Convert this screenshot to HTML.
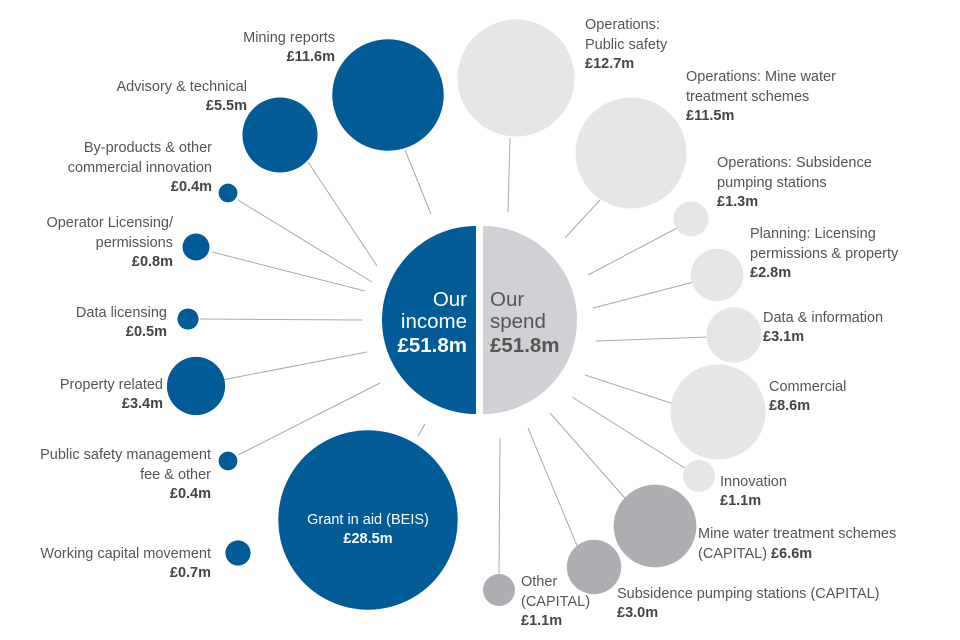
<!DOCTYPE html>
<html><head><meta charset="utf-8"><style>
html,body{margin:0;padding:0;background:#fff;}
svg{display:block;font-family:"Liberation Sans",sans-serif;}
.l{fill:#555;font-size:14.5px;}
.v{fill:#444;font-size:14.5px;font-weight:bold;}
</style></head><body>
<svg id="chart" width="960" height="640" viewBox="0 0 960 640">
<g id="lines"></g>
<g id="bubbles"></g>
<g id="center">
<path d="M476,226 A94,94 0 0 0 476,414 Z" fill="#005b96"/>
<path d="M483,226 A94,94 0 0 1 483,414 Z" fill="#d1d1d5"/>
<g font-size="20.5" text-anchor="end" fill="#fff">
<text x="467" y="306">Our</text><text x="467" y="328">income</text><text x="467" y="352" font-weight="bold">£51.8m</text></g>
<g font-size="20.5" fill="#555">
<text x="490" y="306">Our</text><text x="490" y="328">spend</text><text x="490" y="352" font-weight="bold">£51.8m</text></g>
</g>
<g id="labels"></g>
</svg>
<script>
const names=["Mining reports","Advisory & technical","By-products & other commercial innovation","Operator Licensing/ permissions","Data licensing","Property related","Public safety management fee & other","Grant in aid (BEIS)","Working capital movement","Operations: Public safety","Operations: Mine water treatment schemes","Operations: Subsidence pumping stations","Planning: Licensing permissions & property","Data & information","Commercial","Innovation","Mine water treatment schemes (CAPITAL)","Subsidence pumping stations (CAPITAL)","Other (CAPITAL)"];
const values=[11.6,5.5,0.4,0.8,0.5,3.4,0.4,28.5,0.7,12.7,11.5,1.3,2.8,3.1,8.6,1.1,6.6,3.0,1.1];
const groups=["income","income","income","income","income","income","income","income","income","spend","spend","spend","spend","spend","spend","spend","capital","capital","capital"];
// layout (not data)
const L=[
{c:[388,95],line:[431,214,405,150],lab:[335,42,"end",["Mining reports"]]},
{c:[280,135],line:[377,266,308,162],lab:[247,91,"end",["Advisory & technical"]]},
{c:[228,193],line:[372,282,238,200],lab:[212,152,"end",["By-products & other","commercial innovation"]]},
{c:[196,247],line:[365,291,212,252],lab:[173,227,"end",["Operator Licensing/","permissions"]]},
{c:[188,319],line:[362,320,200,319],lab:[167,317,"end",["Data licensing"]]},
{c:[196,386],line:[367,352,222,380],lab:[163,389,"end",["Property related"]]},
{c:[228,461],line:[380,383,238,455],lab:[211,459,"end",["Public safety management","fee & other"]]},
{c:[368,520],line:[425,424,418,436],lab:[368,524,"middle",["Grant in aid (BEIS)"]],white:1},
{c:[238,553],line:null,lab:[211,558,"end",["Working capital movement"]]},
{c:[516,78],line:[510,138,508,212],lab:[585,29,"start",["Operations:","Public safety"]]},
{c:[631,153],line:[600,200,565,238],lab:[686,81,"start",["Operations: Mine water","treatment schemes"]]},
{c:[691,219],line:[679,227,588,275],lab:[717,167,"start",["Operations: Subsidence","pumping stations"]]},
{c:[717,275],line:[694,282,593,308],lab:[750,238,"start",["Planning: Licensing","permissions & property"]]},
{c:[734,335],line:[709,337,596,341],lab:[763,322,"start",["Data & information"]]},
{c:[718,412],line:[677,405,585,375],lab:[769,391,"start",["Commercial"]]},
{c:[699,476],line:[685,468,572,397],lab:[720,486,"start",["Innovation"]]},
{c:[655,526],line:[631,505,550,413],lab:[698,538,"start",["Mine water treatment schemes"]],inlineVal:"(CAPITAL) "},
{c:[594,567],line:[578,548,528,428],lab:[617,598,"start",["Subsidence pumping stations (CAPITAL)"]]},
{c:[499,590],line:[499,574,500,438],lab:[521,586,"start",["Other","(CAPITAL)"]]}
];
const colors={income:"#005b96",spend:"#e6e6e6",capital:"#aeadb2"};
function rScale(v){return 15.2*Math.pow(v,0.53);}
const NS="http://www.w3.org/2000/svg";
const gl=document.getElementById('lines'),gb=document.getElementById('bubbles'),gt=document.getElementById('labels');
function mk(t,a,p){const e=document.createElementNS(NS,t);for(const k in a)e.setAttribute(k,a[k]);p.appendChild(e);return e;}
values.forEach((v,i)=>{
 const o=L[i];
 if(o.line){const ln=mk('line',{x1:o.line[0],y1:o.line[1],x2:o.line[2],y2:o.line[3],stroke:"#aaa","stroke-width":1},gl);
 
 }
 const c=mk('circle',{cx:o.c[0],cy:o.c[1],r:rScale(v),fill:colors[groups[i]]},gb);
 
 
 const g=mk('g',{"text-anchor":o.lab[2]},gt);
 
 
 let y=o.lab[1];
 o.lab[3].forEach(s=>{const t=mk('text',{x:o.lab[0],y:y,class:'l'},g);t.textContent=s;if(o.white)t.style.fill='#fff';y+=20;});
 const val="£"+v.toFixed(1)+"m";
 if(o.inlineVal){const t=mk('text',{x:o.lab[0],y:y,class:'l'},g);t.textContent=o.inlineVal;const ts=mk('tspan',{class:'v'},t);ts.textContent=val;}
 else{const t=mk('text',{x:o.lab[0],y:y-1,class:'v'},g);t.textContent=val;if(o.white)t.style.fill='#fff';}
});
</script>
</body></html>
